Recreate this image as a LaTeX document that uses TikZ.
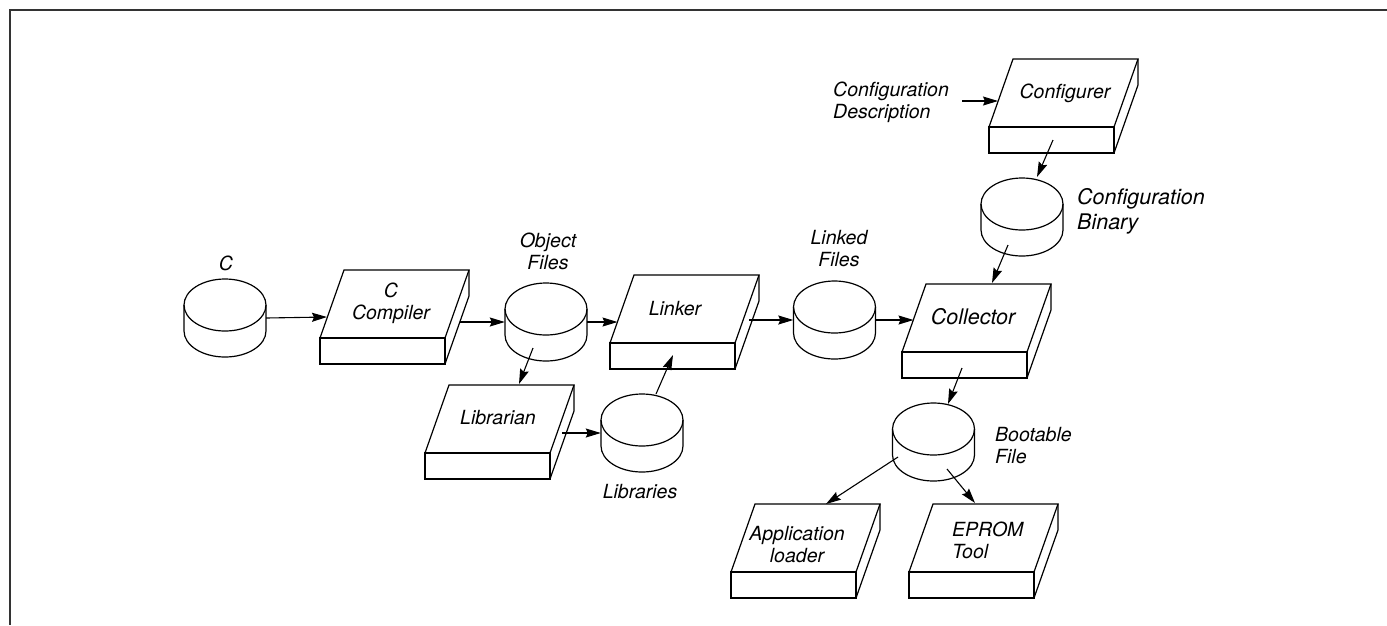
\documentclass[tikz,border=0pt]{standalone}
\usepackage{fontspec}
\setmainfont{TeX Gyre Heros}
\usetikzlibrary{arrows.meta,calc}
\tikzset{
  shp/.style={line width=1.2pt,line join=miter},
  hull/.style={draw=none,shape=rectangle,inner sep=0pt,minimum width=149pt,minimum height=94pt},
  lbl/.style={inner sep=0pt,align=center},
  big/.style={font=\fontsize{21.5}{25}\selectfont\itshape},
  arr/.style={line width=1.1pt,-{Stealth[length=15pt,width=9pt,inset=2pt]}},
  frame/.style={line width=2pt,draw=black!80}
}
\newcommand\drawslab[3]{%
  \node[hull] (#1) at (#2+74.5,#3-21) {};
  \draw[shp] (#2,#3) -- (#2+24,#3-68) -- (#2+149,#3-68) -- (#2+125,#3) -- cycle;
  \draw[shp] (#2,#3) rectangle (#2+125,#3+26);
  \draw[shp] (#2+149,#3-68) -- (#2+149,#3-42) -- (#2+125,#3+26);
}
\newcommand\drawcyl[3]{%
  \node[hull,minimum width=82pt,minimum height=78pt] (#1) at (#2,#3) {};
  \draw[shp] (#2,#3-13) ellipse[x radius=41pt,y radius=26pt];
  \draw[shp] (#2-41,#3-13) -- (#2-41,#3+13) arc[start angle=180,end angle=360,x radius=41pt,y radius=26pt] -- (#2+41,#3-13);
}
\begin{document}
\begin{tikzpicture}[x=1pt,y=-1pt,font=\fontsize{19.5}{22}\selectfont\itshape]
\useasboundingbox (0,0) rectangle (1387,625);
\draw[frame] (1387,10) -- (10,10) -- (10,625);

% boxes
\drawslab{comp}{320}{338}
\drawslab{link}{610}{343}
\drawslab{libr}{425}{453}
\drawslab{conf}{989}{127}
\drawslab{coll}{902}{352}
\drawslab{app}{731}{572}
\drawslab{eprom}{909}{572}

% cylinders
\drawcyl{cC}{225}{318}
\drawcyl{obj}{546}{322}
\drawcyl{lnk}{834.5}{320}
\drawcyl{lib}{642}{433}
\drawcyl{cbin}{1022}{217}
\drawcyl{boot}{933.5}{442}

% labels
\node[lbl] (lC) at (226,263) {C};
\node[lbl] (lobj) at (548,251) {Object\\Files};
\node[lbl] (llnk) at (839,249) {Linked\\Files};
\node[lbl] (llib) at (640,492) {Libraries};
\node[lbl,align=left,anchor=west] (cdesc) at (833,102) {Configuration\\Description};
\node[lbl,big,align=left,anchor=west] (lcbin) at (1077,211) {Configuration\\Binary};
\node[lbl,align=left,anchor=west] (lboot) at (995,446) {Bootable\\File};

% box texts
\node[lbl] (tcomp) at (391,303) {C\\Compiler};
\node[lbl] (tlink) at (675,309) {Linker};
\node[lbl] (tlibr) at (498,418) {Librarian};
\node[lbl] (tconf) at (1065,93) {Configurer};
\node[lbl,big] (tcoll) at (973,317) {Collector};
\node[lbl] (tapp) at (797,545) {Application\\loader};
\node[lbl,align=left,anchor=west] (tep) at (952,540) {EPROM\\Tool};

% connectors
\draw[arr] (cC.east) -- ($(comp.center)+(-67.5,0)$);
\draw[arr] ($(comp.center)+(65.5,5)$) -- (obj.west);
\draw[arr] (obj.east) -- ($(link.center)+(-67,0)$);
\draw[arr] ($(obj.center)+(-13,26)$) -- ($(libr.center)+(19.5,-48)$);
\draw[arr] ($(libr.center)+(62.5,1)$) -- (lib.west);
\draw[arr] ($(lib.center)+(14,-39)$) -- ($(link.center)+(-11.5,33)$);
\draw[arr] ($(link.center)+(64.5,-2)$) -- (lnk.west);
\draw[arr] (lnk.east) -- ($(coll.center)+(-63,-11)$);
\draw[arr] ($(cdesc.east)+(13,-1)$) -- ($(conf.center)+(-65.5,-5)$);
\draw[arr] ($(conf.center)+(-10.5,34)$) -- ($(cbin.center)+(15,-40)$);
\draw[arr] ($(cbin.center)+(-14,28)$) -- ($(coll.center)+(15.5,-48)$);
\draw[arr] ($(coll.center)+(-14.5,37)$) -- ($(boot.center)+(14.5,-38)$);
\draw[arr] ($(boot.center)+(-35.5,15)$) -- ($(app.center)+(20.5,-47)$);
\draw[arr] ($(boot.center)+(13.5,27)$) -- ($(eprom.center)+(-8.5,-48)$);
\end{tikzpicture}
\end{document}
